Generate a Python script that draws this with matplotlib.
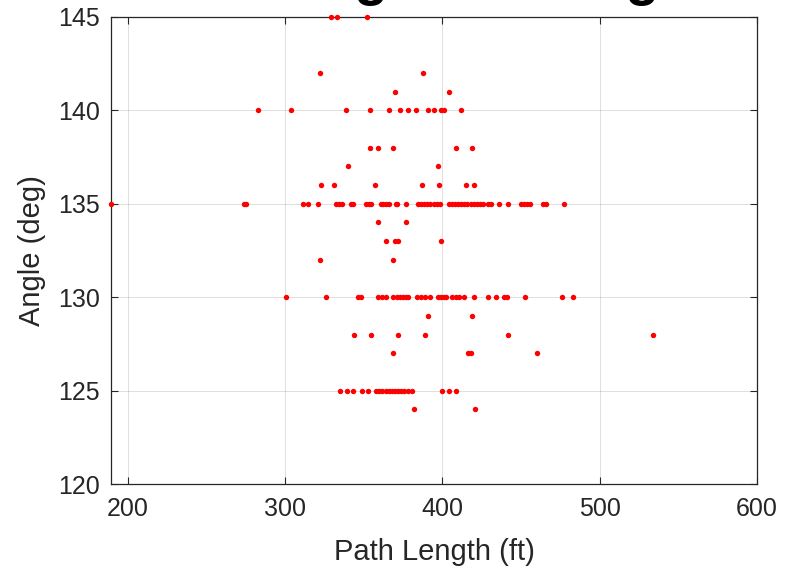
import numpy as np
import matplotlib
matplotlib.use("Agg")
import matplotlib.pyplot as plt

# path length (ft) of each hit, grouped by launch angle (deg)
len_145 = [329, 333, 352]
len_142 = [322, 388]
len_141 = [370, 404]
len_140 = [283, 304, 339, 354, 366, 373, 378, 383, 391, 395, 399, 401, 412]
len_138 = [354, 359, 369, 409, 419]
len_137 = [340, 397]
len_136 = [323, 331, 357, 387, 398, 415, 420]
len_135 = [189.5, 274, 275.5, 311.5, 315, 321,
           332.5, 334.5, 336, 342, 343.5, 351.5, 353.5, 355,
           361, 362.5, 364, 366, 370.5, 371.5, 377,
           384.5, 386.5, 388.5, 390.5, 392.5, 394.5, 396.5, 398.5,
           404, 406, 408, 410, 412, 414, 416, 418, 420, 422, 424, 426,
           429, 431, 436, 442, 450, 452, 454, 456, 464, 466, 477.5]
len_134 = [359, 377]
len_133 = [364, 370, 372, 399]
len_132 = [322, 369]
len_130 = [301, 326, 346.5, 348.5, 359, 361.5, 364, 369, 371, 373, 375, 377,
           378.5, 384, 386.5, 389, 392, 397, 399, 401, 402.5, 406.5, 408.5,
           410.5, 414, 420, 429, 434, 439.5, 441, 452.5, 476, 483]
len_129 = [391, 419]
len_128 = [344, 355, 372, 389, 442, 534]
len_127 = [369, 416.5, 418.5, 460]
len_125 = [335, 339.5, 343, 349, 352.5, 358, 360, 362, 364, 366, 368, 370,
           372, 374, 376, 378.5, 381, 400, 404.5, 409]
len_124 = [382, 421]

rows = {145: len_145, 142: len_142, 141: len_141, 140: len_140, 138: len_138,
        137: len_137, 136: len_136, 135: len_135, 134: len_134, 133: len_133,
        132: len_132, 130: len_130, 129: len_129, 128: len_128, 127: len_127,
        125: len_125, 124: len_124}

path_len = np.concatenate([np.asarray(v, float) for v in rows.values()])
angle = np.concatenate([np.full(len(v), k, float) for k, v in rows.items()])

txt = "#262626"
plt.rcParams["font.family"] = ["Liberation Sans", "DejaVu Sans"]

fig = plt.figure(figsize=(7.93, 5.70), dpi=100)
ax = fig.add_axes([111 / 793, 1 - 484 / 570, 646 / 793, 467 / 570])

ax.plot(path_len, angle, linestyle="none", marker="o", ms=3.9,
        color="#ff0000", mec="none", clip_on=False, zorder=3)

ax.set_xlim(189.5, 600)
ax.set_ylim(120, 145)
ax.set_xticks(np.arange(200, 601, 100))
ax.set_yticks(np.arange(120, 146, 5))
ax.grid(True, color=txt, alpha=0.15, linewidth=0.7)
ax.set_axisbelow(True)
for s in ax.spines.values():
    s.set_color(txt); s.set_linewidth(0.9)
ax.tick_params(direction="in", length=5, width=0.8, top=True, right=True,
               colors=txt, labelsize=18)
ax.tick_params(axis="x", pad=9)
ax.tick_params(axis="y", pad=8)

ax.set_xlabel("Path Length (ft)", fontsize=21, color=txt)
ax.set_ylabel("Angle (deg)", fontsize=21, color=txt)
ax.xaxis.set_label_coords(0.5, -0.115)
ax.yaxis.set_label_coords(-0.101, 0.5)

# title sits mostly above the top edge, only the descenders show
fig.text(438.7 / 793, 1 + 5.5 / 570, "Exit Angle vs Length", ha="center",
         va="baseline", fontsize=40, fontweight="bold", color="black")

fig.savefig("out.png", dpi=100)
